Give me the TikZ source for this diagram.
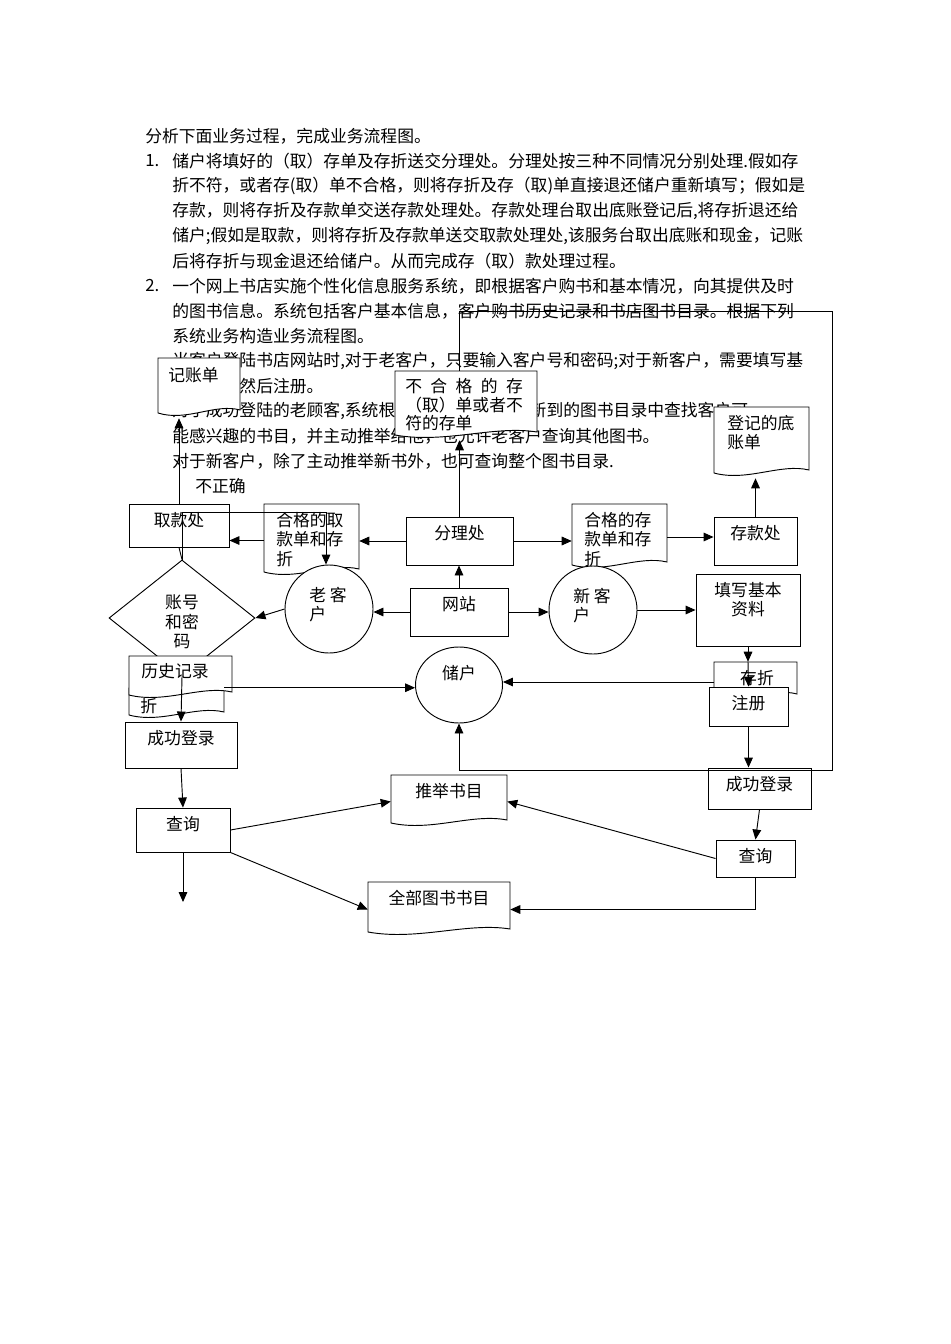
\documentclass[tikz,border=0pt]{standalone}
\usepackage{fontspec}
\setmainfont{Noto Sans CJK SC}
\usetikzlibrary{shapes.geometric,arrows.meta}
\tikzset{
  ar/.style={-{Triangle[length=7.5pt,width=6.5pt]},line width=0.7pt},
  ln/.style={line width=0.7pt},
  tx/.style={font=\fontsize{12.6}{14.5}\selectfont,inner sep=0pt,align=left},
  bx/.style={draw,line width=0.7pt,fill=white,inner sep=0pt},
  hid/.style={inner sep=0pt},
}
\newcommand\Rect[6]{%
  \node[bx,minimum width={(#4-#2)*0.75pt},minimum height={(#5-#3)*0.75pt}] (#1) at ({(#2+#4)/2},{(#3+#5)/2}) {};
  \node[tx,anchor=north,align=center] at ({(#2+#4)/2},{#3+8}) {#6};}
\newcommand\Doc[5]{%
  \node[hid,minimum width={(#4-#2)*0.75pt},minimum height={(#5-#3)*0.75pt}] (#1) at ({(#2+#4)/2},{(#3+#5)/2}) {};
  \draw[ln,fill=white] (#2,#3) -- (#4,#3) -- (#4,{#5-8}) .. controls ({#4-0.3*(#4-#2)},{#5-15}) and ({#2+0.35*(#4-#2)},{#5+4}) .. (#2,{#5-5}) -- cycle;}
\begin{document}
\begin{tikzpicture}[x=0.75pt,y=-0.75pt]
\fill[white] (0,0) rectangle (950,1344);
\useasboundingbox (0,0) rectangle (950,1344);
% body text
\begin{scope}[every node/.style={tx,anchor=west}]
\node at (145,136) {分析下面业务过程，完成业务流程图。};
\node at (145,161) {1.};
\node at (172,161) {储户将填好的（取）存单及存折送交分理处。分理处按三种不同情况分别处理.假如存};
\node at (172,186) {折不符，或者存(取）单不合格，则将存折及存（取)单直接退还储户重新填写；假如是};
\node at (172,211) {存款，则将存折及存款单交送存款处理处。存款处理台取出底账登记后,将存折退还给};
\node at (172,236) {储户;假如是取款，则将存折及存款单送交取款处理处,该服务台取出底账和现金，记账};
\node at (172,261) {后将存折与现金退还给储户。从而完成存（取）款处理过程。};
\node at (145,286) {2.};
\node at (172,286) {一个网上书店实施个性化信息服务系统，即根据客户购书和基本情况，向其提供及时};
\node at (172,311) {的图书信息。系统包括客户基本信息，客户购书历史记录和书店图书目录。根据下列};
\node at (172,336) {系统业务构造业务流程图。};
\node at (172,361) {当客户登陆书店网站时,对于老客户，只要输入客户号和密码;对于新客户，需要填写基};
\node at (172,386) {本信息，然后注册。};
\node at (172,411) {对于成功登陆的老顾客,系统根据其历史记录，从新到的图书目录中查找客户可};
\node at (172,436) {能感兴趣的书目，并主动推举给他，也允许老客户查询其他图书。};
\node at (172,461) {对于新客户，除了主动推举新书外，也可查询整个图书目录.};
\node at (195,486) {不正确};
\end{scope}
% shapes
\Doc{jzd}{158}{358}{240}{418}
\node[tx,anchor=north west] at (168,367) {记账单};
\Doc{bhg}{395}{371}{537}{440}
\node[tx,anchor=north west,font=\fontsize{12.6}{14}\selectfont] at (405,378) {\makebox[7em][s]{不\hfill 合\hfill 格\hfill 的\hfill 存}\\（取）单或者不\\符的存单};
\Doc{djd}{714}{407}{809}{478}
\node[tx,anchor=north west] at (727,415) {登记的底\\账单};
\Rect{qkc}{129}{504}{229}{547}{取款处}
\Doc{hgq}{264}{504}{359}{577}
\node[tx,anchor=north west] at (276,512) {合格的取\\款单和存\\折};
\Rect{flc}{406}{517}{513}{565}{分理处}
\Doc{hgc}{572}{504}{667}{570}
\node[tx,anchor=north west] at (584,512) {合格的存\\款单和存\\折};
\Rect{ckc}{714}{517}{797}{565}{存款处}
\node[draw,line width=0.7pt,fill=white,diamond,inner sep=0pt,minimum width={146*0.75pt},minimum height={116*0.75pt}] (dia) at (182,618) {};
\node[tx,align=center] at (182,622) {账号\\和密\\码};
\node[draw,line width=0.7pt,fill=white,circle,inner sep=0pt,minimum size={88*0.75pt}] (lk) at (329,609) {};
\node[tx,anchor=north west] at (309,587) {老 客\\户};
\Rect{wz}{410}{588}{508}{636}{网站}
\node[draw,line width=0.7pt,fill=white,circle,inner sep=0pt,minimum size={88*0.75pt}] (xk) at (593,610) {};
\node[tx,anchor=north west] at (573,588) {新 客\\户};
\Rect{txj}{696}{574}{800}{646}{填写基本\\资料}
\Doc{zhe}{129}{688}{224}{720}
\node[tx,anchor=north west] at (140,698) {折};
\Doc{lsjl}{129}{656}{232}{700}
\node[tx,anchor=north] at (175,663) {历史记录};
\node[draw,line width=0.7pt,fill=white,ellipse,inner sep=0pt,minimum width={87*0.75pt},minimum height={76*0.75pt}] (ch) at (459,685) {};
\node[tx] at (459,673) {储户};
\Doc{cz}{714}{662}{797}{702}
\node[tx,anchor=north] at (757,670) {存折};
\Rect{zc}{709}{687}{788}{726}{注册}
\Rect{cgL}{125}{722}{237}{768}{成功登录}
\Rect{cgR}{708}{768}{811}{809}{成功登录}
\Doc{tj}{391}{775}{507}{828}
\node[tx,anchor=north] at (449,783) {推举书目};
\Rect{cxL}{136}{808}{230}{852}{查询}
\Rect{cxR}{716}{840}{795}{877}{查询}
\Doc{qb}{368}{882}{510}{937}
\node[tx,anchor=north] at (439,890) {全部图书书目};
% connectors
\coordinate (tr) at (832,311);
\coordinate (br) at (832,770);
\coordinate (j1) at (326,512);
\coordinate (endL) at (183,902);
\draw[ar] (flc.west) -- (flc.west -| hgq.east);
\draw[ar] (hgq.west) -- (hgq.west -| qkc.east);
\draw[ar] (flc.east) -- (flc.east -| hgc.west);
\draw[ar] (hgc.east) -- (hgc.east -| ckc.west);
\draw[ar] (qkc.north) -- (qkc.north |- jzd.south);
\draw[ar] (ckc.north) -- (ckc.north |- djd.south);
\draw[ar] (flc.north) -- (flc.north |- bhg.south);
\draw[ar] (flc.north |- bhg.north) |- (tr) |- (ch.south |- br) -- (ch.south);
\draw[ar] (wz.north) -- (wz.north |- flc.south);
\draw[ar] (wz.west) -- (wz.west -| lk.east);
\draw[ar] (wz.east) -- (wz.east -| xk.west);
\draw[ar] (lk.west) -- (dia.east);
\draw[ar] (xk.east) -- (xk.east -| txj.west);
\draw[ar] (txj.south) -- (txj.south |- cz.north);
\draw[ar] (txj.south |- cz.north) -- (zc.north);
\draw[ar] (zc.south) -- (zc.south |- cgR.north);
\draw[ar] (cgR.south) -- (cxR.north);
\draw[ar] (cxR.west) -- (tj.east);
\draw[ar] (cxR.south) |- (qb.east);
\draw[ar] (cz.west) -- (cz.west -| ch.east);
\draw[ar] (cgL.south) -- (cxL.north);
\draw[ar] (cxL.east) -- (tj.west);
\draw[ar] (cxL.south east) -- (qb.west);
\draw[ar] (cxL.south) -- (endL);
\draw[ln] (qkc.south) -- (dia.north);
\draw[ar] (dia.north) |- (j1) -- (j1 |- lk.north);
\draw[ar] (dia.south) -- (cgL.north);
\draw[ar] (zhe.north east) -- (zhe.north east -| ch.west);
\end{tikzpicture}
\end{document}
